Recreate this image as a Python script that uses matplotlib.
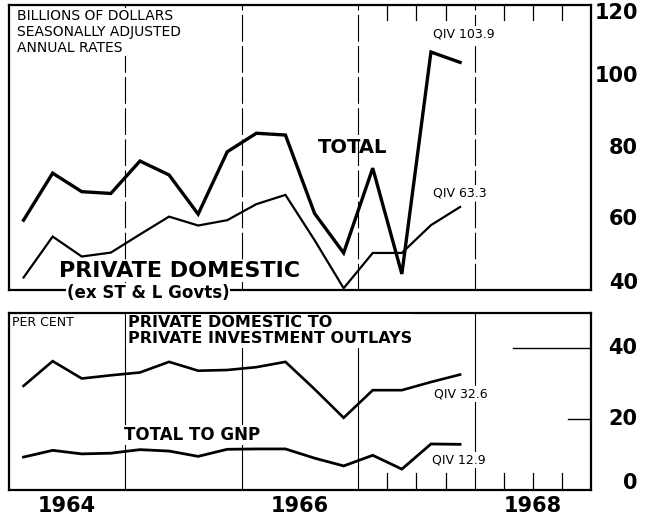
import numpy as np
import matplotlib
matplotlib.use("Agg")
import matplotlib.pyplot as plt

# ---------------- data ----------------
years = [1964] * 4 + [1965] * 4 + [1966] * 4 + [1967] * 4
qtrs = [1, 2, 3, 4] * 4

# billions of dollars, seasonally adjusted annual rates
total = [59.6, 72.8, 67.6, 67.1, 76.2, 72.3, 61.3, 78.8,
         84.0, 83.5, 61.5, 50.4, 74.2, 44.5, 106.8, 103.9]
private_domestic = [43.5, 55.0, 49.4, 50.5, 55.6, 60.6, 58.1, 59.6,
                    64.1, 66.7, 54.0, 40.5, 50.4, 50.4, 58.2, 63.3]

# per cent
pd_to_pio = [29.4, 36.4, 31.5, 32.4, 33.2, 36.2, 33.7, 33.9,
             34.7, 36.2, 28.5, 20.4, 28.2, 28.2, 30.5, 32.6]
total_to_gnp = [9.3, 11.2, 10.2, 10.4, 11.4, 11.0, 9.5, 11.5,
                11.6, 11.6, 9.0, 6.8, 9.8, 5.9, 13.0, 12.9]

top_tick_values = [120, 100, 80, 60, 40]
top_tick_labels = ["120", "100", "80", "60", "40"]
bot_tick_values = [40, 20, 0]
bot_tick_labels = ["40", "20", "0"]
year_labels = ["1964", "1966", "1968"]
grid_years = [1965, 1966, 1967, 1968]

# --------------- figure ---------------
plt.rcParams['font.family'] = ['DejaVu Sans']
W, H = 645, 518
fig = plt.figure(figsize=(W / 100, H / 100), dpi=100)
fig.patch.set_facecolor("white")

x = np.array(years) + (np.array(qtrs) - 0.5) / 4.0

ax1 = fig.add_axes([9 / W, 1 - 290 / H, 582 / W, 285 / H])
ax2 = fig.add_axes([9 / W, 1 - 490 / H, 582 / W, 177 / H])

for ax in (ax1, ax2):
    ax.set_xlim(1964, 1969)
    ax.set_yticks([])
    for s in ax.spines.values():
        s.set_linewidth(1.6)
        s.set_color("black")

ax1.set_ylim(40, 120)
ax2.set_ylim(0, 50)
ax1.set_xticks([])

# grid lines
for g in grid_years:
    ax1.axvline(g, color="black", lw=0.8, ls=(0, (24, 4)), zorder=1)
    ax2.axvline(g, color="black", lw=0.8, zorder=1)

# quarter ticks in 1967-1968
for yr in (1967, 1968):
    for q in (0.25, 0.5, 0.75):
        ax1.axvline(yr + q, ymin=1 - 15 / 285, ymax=1, color="black", lw=0.9, zorder=1)
        ax2.axvline(yr + q, ymin=0, ymax=17 / 177, color="black", lw=0.9, zorder=1)

# inward ticks on right of lower panel
ax2.axhline(40, xmin=(513 - 9) / 582, xmax=1, color="black", lw=1.0, zorder=1)
ax2.axhline(20, xmin=(568 - 9) / 582, xmax=1, color="black", lw=1.0, zorder=1)

# series
ax1.plot(x, total, color="black", lw=2.4, zorder=4, solid_joinstyle="miter")
ax1.plot(x, private_domestic, color="black", lw=1.6, zorder=4, solid_joinstyle="miter")
ax2.plot(x, pd_to_pio, color="black", lw=1.9, zorder=4, solid_joinstyle="miter")
ax2.plot(x, total_to_gnp, color="black", lw=2.0, zorder=4, solid_joinstyle="miter")

wb = dict(facecolor="white", edgecolor="none", pad=1.0)

# texts, top panel
ax1.text(0.014, 0.985, "BILLIONS OF DOLLARS\nSEASONALLY ADJUSTED\nANNUAL RATES",
         transform=ax1.transAxes, ha="left", va="top", fontsize=10,
         linespacing=1.15, bbox=wb, zorder=5)
ax1.text(1966.953, 79.9, "TOTAL", ha="center", va="center", fontsize=14,
         fontweight="bold", zorder=5)
ax1.text(1965.468, 45.3, "PRIVATE DOMESTIC", ha="center", va="center",
         fontsize=16, fontweight="bold", bbox=wb, zorder=5)
ax1.text(1965.197, 39.2, "(ex ST & L Govts)", ha="center", va="center",
         fontsize=12, fontweight="bold", bbox=dict(facecolor="white", edgecolor="none", pad=0.5),
         zorder=6, clip_on=False)
ax1.text(1967.64, 111.9, "QIV 103.9", ha="left", va="center", fontsize=9, bbox=wb, zorder=5)
ax1.text(1967.64, 67.2, "QIV 63.3", ha="left", va="center", fontsize=9, bbox=wb, zorder=5)

# texts, bottom panel
ax2.text(1964.026, 47.2, "PER CENT", ha="left", va="center", fontsize=9, zorder=5)
ax2.text(1965.02, 49.3, "PRIVATE DOMESTIC TO\nPRIVATE INVESTMENT OUTLAYS",
         ha="left", va="top", fontsize=11.5, fontweight="bold", linespacing=1.05,
         bbox=wb, zorder=5)
ax2.text(1965.575, 15.5, "TOTAL TO GNP", ha="center", va="center", fontsize=12,
         fontweight="bold", bbox=wb, zorder=5)
ax2.text(1967.648, 27.1, "QIV 32.6", ha="left", va="center", fontsize=9, bbox=wb, zorder=5)
ax2.text(1967.63, 8.5, "QIV 12.9", ha="left", va="center", fontsize=9, bbox=wb, zorder=5)

# right-hand value labels
for v, lab in zip(top_tick_values, top_tick_labels):
    ax1.annotate(lab, xy=(1.0, float(np.clip(v, 42, 117.8))),
                 xycoords=("axes fraction", "data"),
                 xytext=(47 * 0.72, 0), textcoords="offset points",
                 ha="right", va="center", fontsize=15, fontweight="bold",
                 annotation_clip=False)
for v, lab in zip(bot_tick_values, bot_tick_labels):
    ax2.annotate(lab, xy=(1.0, float(max(v, 2.0))),
                 xycoords=("axes fraction", "data"),
                 xytext=(46 * 0.72, 0), textcoords="offset points",
                 ha="right", va="center", fontsize=15, fontweight="bold",
                 annotation_clip=False)

# year labels
ax2.set_xticks([int(y) + 0.5 for y in year_labels])
ax2.set_xticklabels(year_labels, fontsize=15, fontweight="bold")
ax2.tick_params(axis="x", length=0, pad=4)

fig.savefig("out.png", dpi=100, facecolor="white")
